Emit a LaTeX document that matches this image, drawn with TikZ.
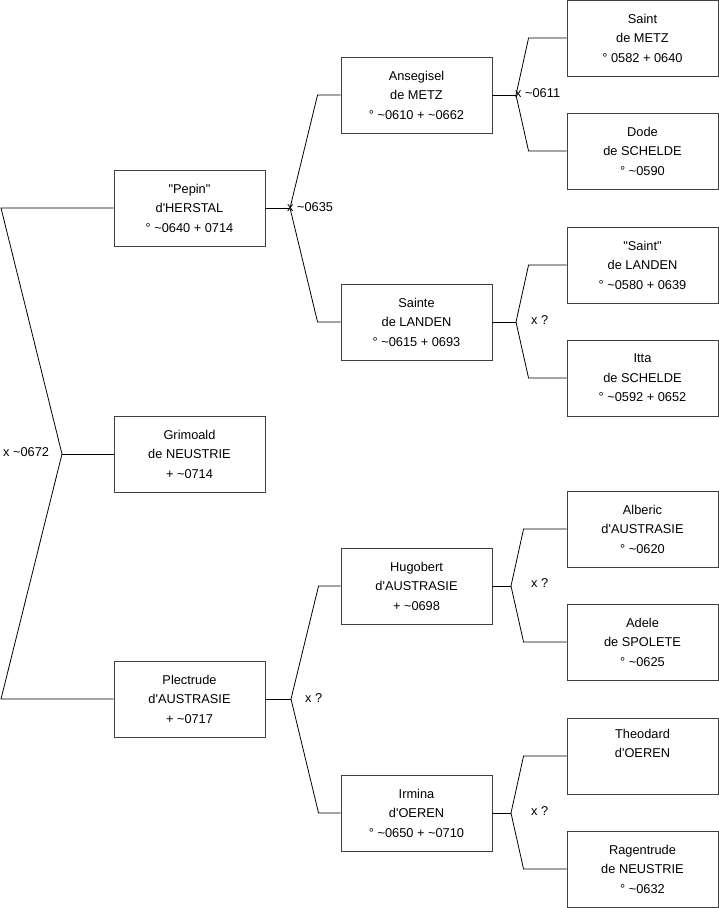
\documentclass[tikz,border=0pt]{standalone}
\usepackage{fontspec}
\newfontfamily\gfont{Liberation Sans}
\newcommand{\abt}{\textasciitilde}
\tikzset{
  person/.style={draw=black!75, line width=0.9pt, minimum width=151pt, minimum height=76pt,
    inner sep=0pt, align=center, font=\gfont\fontsize{12.8}{19.5}\selectfont},
  marr/.style={anchor=west, inner sep=0pt, font=\gfont\fontsize{12.8}{15}\selectfont},
  link/.style={line width=0.8pt}
}
\begin{document}
\begin{tikzpicture}[x=1pt,y=-1pt]
  \useasboundingbox (0,0) rectangle (719,908);
  % generation 1
  \node[person] (pepin) at (189.5,208) {"Pepin"\\d'HERSTAL\\° \abt0640 + 0714};
  \node[person] (grimoald) at (189.5,454) {Grimoald\\de NEUSTRIE\\+ \abt0714};
  \node[person] (plectrude) at (189.5,699) {Plectrude\\d'AUSTRASIE\\+ \abt0717};
  % generation 2
  \node[person] (ansegisel) at (416.5,95) {Ansegisel\\de METZ\\° \abt0610 + \abt0662};
  \node[person] (sainte) at (416.5,322) {Sainte\\de LANDEN\\° \abt0615 + 0693};
  \node[person] (hugobert) at (416.5,586) {Hugobert\\d'AUSTRASIE\\+ \abt0698};
  \node[person] (irmina) at (416.5,813) {Irmina\\d'OEREN\\° \abt0650 + \abt0710};
  % generation 3
  \node[person] (saint) at (642.5,38) {Saint\\de METZ\\° 0582 + 0640};
  \node[person] (dode) at (642.5,151) {Dode\\de SCHELDE\\° \abt0590};
  \node[person] (sintl) at (642.5,265) {"Saint"\\de LANDEN\\° \abt0580 + 0639};
  \node[person] (itta) at (642.5,378) {Itta\\de SCHELDE\\° \abt0592 + 0652};
  \node[person] (alberic) at (642.5,529) {Alberic\\d'AUSTRASIE\\° \abt0620};
  \node[person] (adele) at (642.5,642) {Adele\\de SPOLETE\\° \abt0625};
  \node[person] (theodard) at (642.5,756) {Theodard\\d'OEREN\\\strut};
  \node[person] (ragentrude) at (642.5,869) {Ragentrude\\de NEUSTRIE\\° \abt0632};

  % marriages
  \coordinate (a0) at (1,208);
  \coordinate (b0) at (1,699);
  \coordinate (j0) at (62,454);
  \coordinate (j1) at (290,208);
  \coordinate (j2) at (291,699);
  \coordinate (j3) at (516,95);
  \coordinate (j4) at (516,322);
  \coordinate (j5) at (511,586);
  \coordinate (j6) at (511,813);

  \draw[link] (pepin.west) -- (a0) -- (j0) -- (b0) -- (plectrude.west);
  \draw[link] (j0) -- (grimoald.west);

  \draw[link] (pepin.east) -- (j1);
  \draw[link] (ansegisel.west) -- ++(-23,0) -- (j1) -- ([xshift=-23]sainte.west) -- (sainte.west);
  \draw[link] (plectrude.east) -- (j2);
  \draw[link] (hugobert.west) -- ++(-22,0) -- (j2) -- ([xshift=-22]irmina.west) -- (irmina.west);

  \draw[link] (ansegisel.east) -- (j3);
  \draw[link] (saint.west) -- ++(-38,0) -- (j3) -- ([xshift=-38]dode.west) -- (dode.west);
  \draw[link] (sainte.east) -- (j4);
  \draw[link] (sintl.west) -- ++(-38,0) -- (j4) -- ([xshift=-38]itta.west) -- (itta.west);
  \draw[link] (hugobert.east) -- (j5);
  \draw[link] (alberic.west) -- ++(-43,0) -- (j5) -- ([xshift=-43]adele.west) -- (adele.west);
  \draw[link] (irmina.east) -- (j6);
  \draw[link] (theodard.west) -- ++(-43,0) -- (j6) -- ([xshift=-43]ragentrude.west) -- (ragentrude.west);

  \node[marr] (m0) at (3,452) {x \abt0672};
  \node[marr] (m1) at (287,207) {x \abt0635};
  \node[marr] (m2) at (305,698) {x ?};
  \node[marr] (m3) at (515,93) {x \abt0611};
  \node[marr] (m4) at (531,320) {x ?};
  \node[marr] (m5) at (531,583) {x ?};
  \node[marr] (m6) at (531,811) {x ?};
\end{tikzpicture}
\end{document}
